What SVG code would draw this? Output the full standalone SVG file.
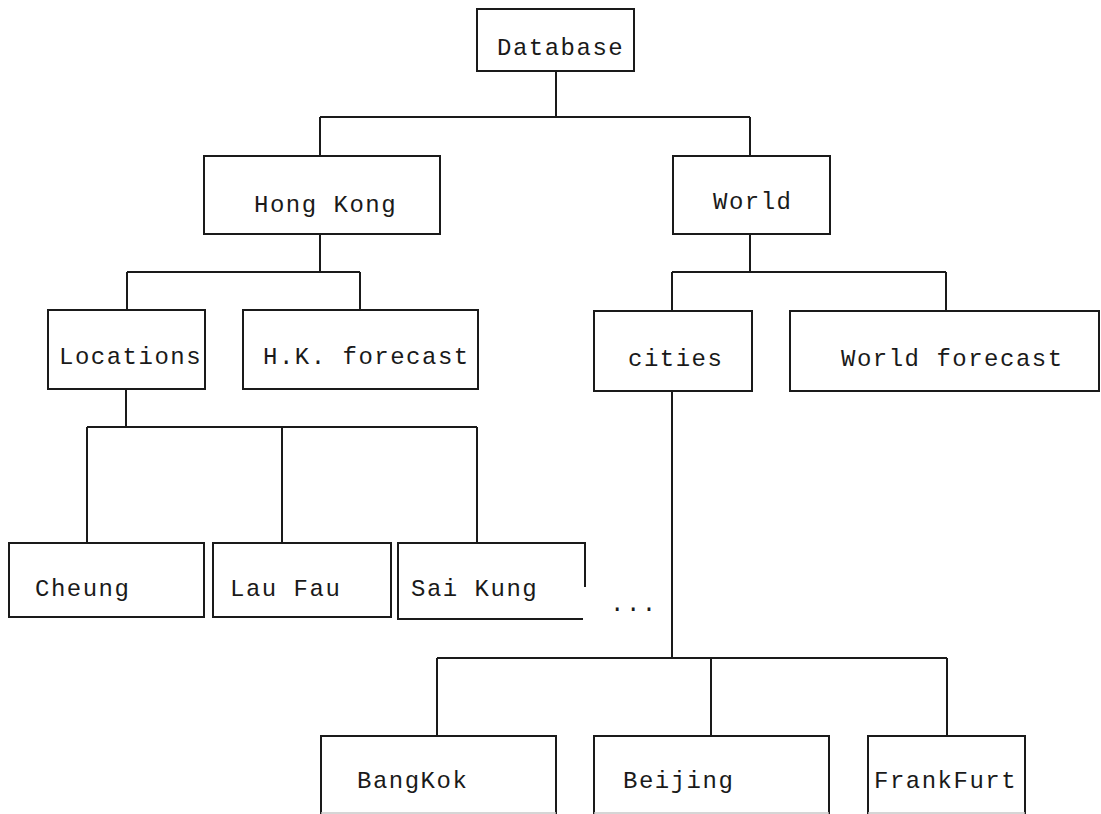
<svg xmlns="http://www.w3.org/2000/svg" width="1101" height="814" viewBox="0 0 1101 814">
  <style>
    .box { fill: #ffffff; stroke: #1a1a1a; stroke-width: 2; }
    .open { fill: none; stroke: #1a1a1a; stroke-width: 2; }
    .edge { fill: none; stroke: #1a1a1a; stroke-width: 2; }
    .faint { fill: none; stroke: #c8c8c8; stroke-width: 1.5; }
    .label { font-family: "Liberation Mono", "DejaVu Sans Mono", monospace; font-size: 24px; letter-spacing: 1.5px; fill: #1a1a1a; }
  </style>
  <rect width="1101" height="814" fill="#ffffff"/>

  <!-- tree connectors -->
  <g id="connectors">
    <path class="edge" d="M556 71 V117 M320 117 H750 M320 117 V156 M750 117 V156"/>
    <path class="edge" d="M320 234 V272 M127 272 H360 M127 272 V310 M360 272 V310"/>
    <path class="edge" d="M750 234 V272 M672 272 H946 M672 272 V311 M946 272 V311"/>
    <path class="edge" d="M126 389 V427 M87 427 H477 M87 427 V543 M282 427 V543 M477 427 V543"/>
    <path class="edge" d="M672 391 V658 M437 658 H947 M437 658 V736 M711 658 V736 M947 658 V736"/>
  </g>

  <g id="database">
    <rect class="box" x="477" y="9" width="157" height="62"/>
    <text class="label" x="497" y="55">Database</text>
  </g>

  <g id="hong-kong">
    <rect class="box" x="204" y="156" width="236" height="78"/>
    <text class="label" x="254" y="212">Hong Kong</text>
  </g>

  <g id="world">
    <rect class="box" x="673" y="156" width="157" height="78"/>
    <text class="label" x="713" y="209">World</text>
  </g>

  <g id="locations">
    <rect class="box" x="48" y="310" width="157" height="79"/>
    <text class="label" x="59" y="364">Locations</text>
  </g>

  <g id="hk-forecast">
    <rect class="box" x="243" y="310" width="235" height="79"/>
    <text class="label" x="263" y="364">H.K. forecast</text>
  </g>

  <g id="cities">
    <rect class="box" x="594" y="311" width="158" height="80"/>
    <text class="label" x="628" y="366">cities</text>
  </g>

  <g id="world-forecast">
    <rect class="box" x="790" y="311" width="309" height="80"/>
    <text class="label" x="841" y="366">World forecast</text>
  </g>

  <g id="cheung">
    <rect class="box" x="9" y="543" width="195" height="74"/>
    <text class="label" x="35" y="596">Cheung</text>
  </g>

  <g id="lau-fau">
    <rect class="box" x="213" y="543" width="178" height="74"/>
    <text class="label" x="230" y="596">Lau Fau</text>
  </g>

  <g id="sai-kung">
    <path class="open" d="M585 587 V543 H398 V619 H583"/>
    <text class="label" x="411" y="596">Sai Kung</text>
  </g>

  <g id="more">
    <text class="label" x="610" y="611">...</text>
  </g>

  <g id="bangkok">
    <path class="open" d="M321 816 V736 H556 V816"/>
    <path class="faint" d="M321 813 H556"/>
    <text class="label" x="357" y="788">BangKok</text>
  </g>

  <g id="beijing">
    <path class="open" d="M594 816 V736 H829 V816"/>
    <path class="faint" d="M594 813 H829"/>
    <text class="label" x="623" y="788">Beijing</text>
  </g>

  <g id="frankfurt">
    <path class="open" d="M868 816 V736 H1025 V816"/>
    <path class="faint" d="M868 813 H1025"/>
    <text class="label" x="874" y="788">FrankFurt</text>
  </g>
</svg>
